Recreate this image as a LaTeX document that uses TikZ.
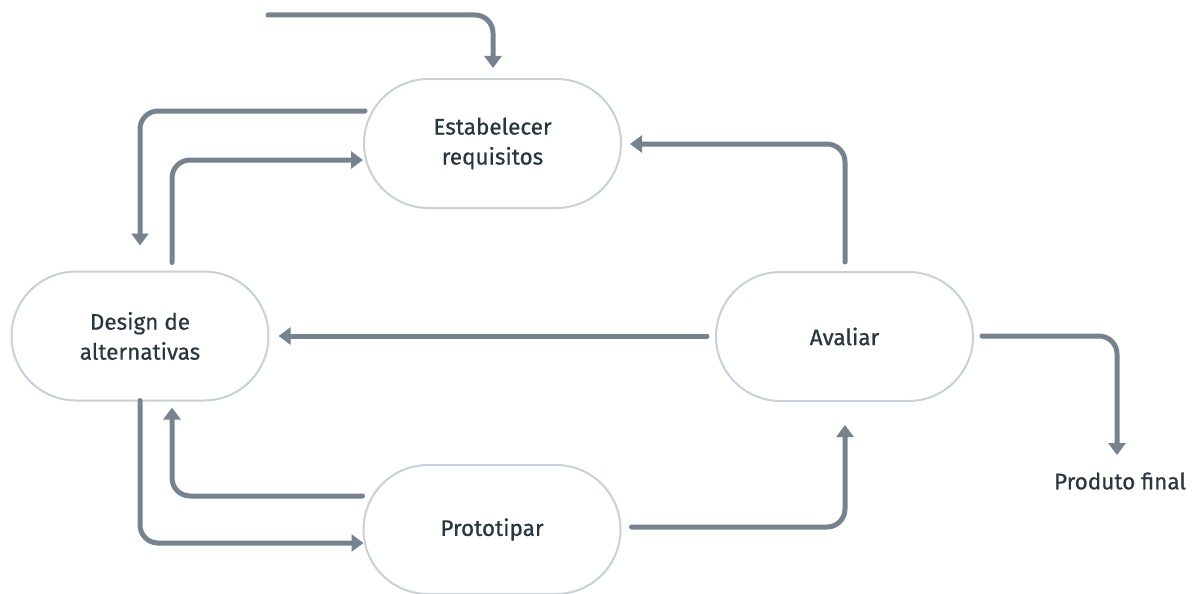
\documentclass[tikz,border=0pt]{standalone}
\usepackage{fontspec}
\setmainfont{Fira Sans}[FakeBold=0.6]
\usetikzlibrary{shapes.misc,arrows.meta,calc}
\definecolor{arrowc}{HTML}{76838F}
\definecolor{borderc}{HTML}{C6D1DA}
\definecolor{textc}{HTML}{283640}
\tikzset{
  stadium/.style={rounded rectangle, draw=borderc, line width=2pt, fill=white,
    minimum width=257pt, minimum height=129pt, inner sep=0pt, align=center,
    text=textc, font=\fontsize{22.5}{30}\selectfont},
  plain/.style={text=textc, font=\fontsize{22.5}{30}\selectfont, inner sep=0pt},
  arr/.style={draw=arrowc, line width=5pt, line cap=round, rounded corners=18pt,
    -{Triangle[length=12pt,width=17pt]}}
}
\begin{document}
\begin{tikzpicture}[x=1pt,y=-1pt]
\useasboundingbox (0,0) rectangle (1199,594);
\node[stadium] (E) at (492.5,143.5) {Estabelecer\\requisitos};
\node[stadium] (D) at (140,336) {Design de\\alternativas};
\node[stadium] (A) at (844.5,336.5) {Avaliar};
\node[stadium] (P) at (492,529.5) {Prototipar};
\node[plain] (pf) at (1120,481) {Produto final};
\coordinate (s1) at (268,15);
% top entry
\draw[arr] (s1) -| ($(E.north)+(0.5,-10)$);
% E -> D
\draw[arr] ($(E.west)+(2,-32.5)$) -| ($(D.north)+(0,-25)$);
% D -> E
\draw[arr] ($(D.north)+(32,-8)$) |- ($(E.west)+(0,16.5)$);
% A -> E
\draw[arr] ($(A.north)+(0.5,-9)$) |- ($(E.east)+(8,0.5)$);
% A -> D
\draw[arr] ($(A.west)+(-8,-0.5)$) -- ($(D.east)+(9,0)$);
% A -> Produto final
\draw[arr] ($(A.east)+(8,-0.5)$) -| ($(pf.center)+(-3,-26)$);
% D -> P
\draw[arr] ($(D.south)+(0,-1)$) |- ($(P.west)+(1,13.5)$);
% P -> D
\draw[arr] ($(P.west)+(0,-33.5)$) -| ($(D.south)+(32,6)$);
% P -> A
\draw[arr] ($(P.east)+(10,-2.5)$) -| ($(A.south)+(0.5,23)$);
\end{tikzpicture}
\end{document}
